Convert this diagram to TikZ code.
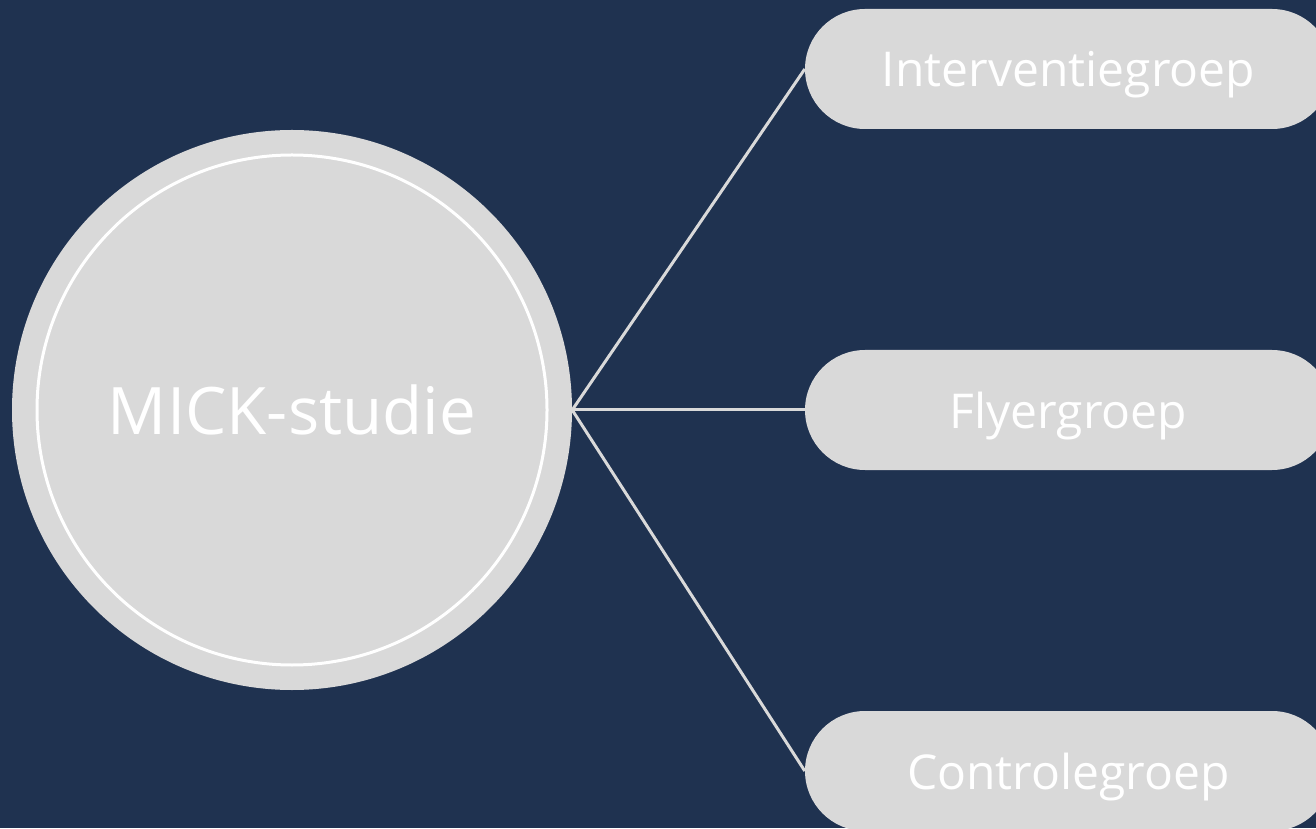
\documentclass[tikz,border=0pt]{standalone}
\usepackage{fontspec}
\setmainfont{Open Sans}
\definecolor{navy}{HTML}{1F3250}
\definecolor{pale}{HTML}{D9D9D9}
\begin{document}
\begin{tikzpicture}[x=1pt,y=1pt,
  hub/.style={circle, fill=pale, minimum size=560pt, inner sep=0pt,
    text=white, font=\fontsize{65.5}{72}\selectfont},
  group/.style={rectangle, rounded corners=60pt, fill=pale, minimum width=527pt,
    minimum height=120pt, inner sep=0pt, text depth=0pt, text=white,
    font=\fontsize{48}{56}\selectfont},
  link/.style={draw=pale, line width=3pt}]
  \useasboundingbox (0,0) rectangle (1316,828);
  \clip (0,0) rectangle (1316,828);
  \fill[navy] (0,0) rectangle (1316,828);
  % central study node with its inner ring
  \node[hub] (study) at (292,418) {MICK-studie};
  \draw[white, line width=3pt] (study.center) circle (255pt);
  % three arms of the study
  \node[group] (interv) at (1068.5,759) {Interventiegroep};
  \node[group] (flyer)  at (1068.5,418) {Flyergroep};
  \node[group] (ctrl)   at (1068.5,57)  {Controlegroep};
  % connectors from the study to each arm
  \draw[link] (study.east) -- (interv.west);
  \draw[link] (study.east) -- (flyer.west);
  \draw[link] (study.east) -- (ctrl.west);
\end{tikzpicture}
\end{document}
